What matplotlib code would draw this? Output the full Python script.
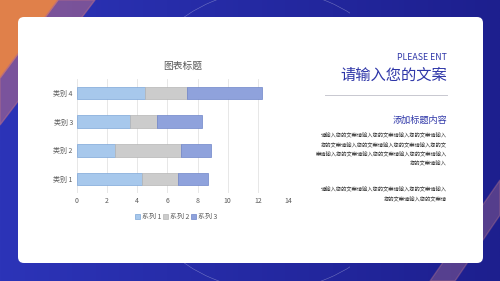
import numpy as np
import matplotlib.pyplot as plt
from matplotlib.patches import FancyBboxPatch, Polygon, Arc, Rectangle
from matplotlib.colors import LinearSegmentedColormap

plt.rcParams['font.family'] = ['Noto Sans CJK SC', 'DejaVu Sans']

categories = ['类别 1', '类别 2', '类别 3', '类别 4']
series_names = ['系列 1', '系列 2', '系列 3']
s1 = [4.3, 2.5, 3.5, 4.5]
s2 = [2.4, 4.4, 1.8, 2.8]
s3 = [2.0, 2.0, 3.0, 5.0]
xticks = [0, 2, 4, 6, 8, 10, 12, 14]

para1 = ['请输入您的文案请输入您的文案请输入您的文案请输入',
         '您的文案请输入您的文案请输入您的文案请输入您的文',
         '案请输入您的文案请输入您的文案请输入您的文案请输入',
         '您的文案请输入']
para2 = ['请输入您的文案请输入您的文案请输入您的文案请输入',
         '您的文案请输入您的文案请']

fig = plt.figure(figsize=(5, 2.81), dpi=100)

# background in pixel coordinates
bg = fig.add_axes([0, 0, 1, 1])
bg.set_xlim(0, 500)
bg.set_ylim(281, 0)
bg.axis('off')
cmap = LinearSegmentedColormap.from_list('bg', ['#2c34b8', '#1d1f8e'])
grad = np.linspace(0, 1, 256).reshape(1, -1)
bg.imshow(grad, extent=[0, 500, 281, 0], cmap=cmap, aspect='auto', zorder=0)

bg.add_patch(Polygon([(0, 0), (58, 0), (0, 78)], color='#e0804a', zorder=1))
bg.add_patch(Polygon([(58, 0), (95, 0), (0, 125), (0, 78)], color='#b06a8a', alpha=0.6, zorder=1))
bg.add_patch(Polygon([(500, 180), (500, 215), (455, 281), (430, 281)], color='#c07a8a', alpha=0.35, zorder=1))
clip = Rectangle((180, 0), 170, 281, transform=bg.transData)
for r in [150, 170, 190, 215]:
    a = Arc((270, 140), 2 * r, 2 * r, color='white', lw=0.4, alpha=0.35, zorder=1)
    bg.add_patch(a)
    a.set_clip_path(clip)

bg.add_patch(FancyBboxPatch((18, 17), 465, 246, boxstyle='round,pad=0,rounding_size=6',
                            fc='white', ec='none', zorder=2))

# right-hand text
bg.text(447, 57, 'PLEASE ENT', ha='right', va='center', fontsize=6.3, color='#2e36a8', zorder=3)
bg.text(447, 75, '请输入您的文案', ha='right', va='center', fontsize=11, color='#2e36a8', zorder=3)
bg.plot([325, 447], [94.5, 94.5], color='#c8c8d0', lw=0.7, zorder=3)
bg.text(447, 120, '添加标题内容', ha='right', va='center', fontsize=6.6, color='#2e36a8', zorder=3)
for i, line in enumerate(para1):
    bg.text(447, 136 + i * 9.3, line, ha='right', va='center', fontsize=3.8, color='#333333', zorder=3)
for i, line in enumerate(para2):
    bg.text(447, 190 + i * 9.3, line, ha='right', va='center', fontsize=3.8, color='#333333', zorder=3)

# chart
ax = fig.add_axes([0.154, 0.312, 0.422, 0.408])
y = np.arange(len(categories))
colors = ['#a7c8ec', '#cccccc', '#8fa2dc']
edges = ['#7da6d8', '#b5b5b5', '#6e84c8']
left = np.zeros(len(categories))
for name, vals, c, e in zip(series_names, [s1, s2, s3], colors, edges):
    ax.barh(y, vals, left=left, height=0.45, color=c, edgecolor=e, linewidth=0.5,
            label=name, zorder=3)
    left += np.array(vals)

ax.set_xlim(0, 14)
ax.set_ylim(-0.5, 3.5)
ax.set_xticks(xticks)
ax.set_yticks(y)
ax.set_yticklabels(categories)
ax.tick_params(length=0, labelsize=5, colors='#595959', pad=3)
ax.grid(axis='x', color='#e3e3e3', lw=0.6, zorder=0)
for s in ax.spines.values():
    s.set_visible(False)
ax.set_title('图表标题', fontsize=7, color='#595959', pad=7)
ax.legend(loc='upper center', bbox_to_anchor=(0.47, -0.12), ncol=3, frameon=False,
          fontsize=5, handlelength=0.7, handleheight=0.7, handletextpad=0.3,
          columnspacing=0.3, labelcolor='#595959')

fig.savefig('out.png', dpi=100)
